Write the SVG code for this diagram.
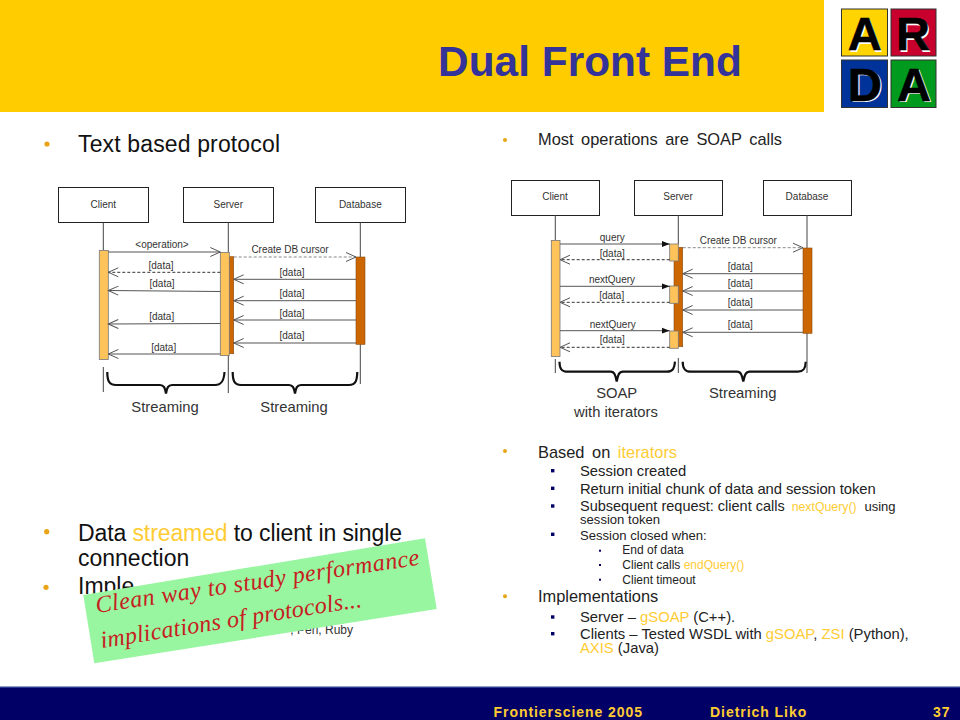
<svg xmlns="http://www.w3.org/2000/svg" width="960" height="720" viewBox="0 0 960 720">
<style>
text{font-family:"Liberation Sans",Arial,sans-serif;fill:#111}
.hl{fill:#FFCC33}
.lb{font-size:10px;fill:#333}
.ct{text-anchor:middle}
.box{fill:#fff;stroke:#222;stroke-width:1}
.lf{stroke:#444;stroke-width:1;fill:none}
.act{fill:#FFC35C;stroke:#777;stroke-width:.8}
.dk{fill:#CC6600;stroke:#8a4a10;stroke-width:.6}
.sol{stroke:#555;stroke-width:1;fill:none;marker-end:url(#o)}
.dsh{stroke:#333;stroke-width:1;fill:none;stroke-dasharray:3 2;marker-end:url(#o)}
.gd{stroke:#888;stroke-width:1;fill:none;stroke-dasharray:3 2;marker-end:url(#o)}
.fil{stroke:#555;stroke-width:1;fill:none;marker-end:url(#f)}
.br{stroke:#111;stroke-width:2.2;fill:none}
.st{font-size:14.8px;fill:#333;text-anchor:middle}
.b1{fill:#E8A317}
.b2{fill:#000066}
.l{font-size:23px}
.m{font-size:16.4px;fill:#222}
.s{font-size:14.8px;fill:#222}
.x{font-size:13.1px;fill:#222}
.y{font-size:12px;fill:#222}
.lg{font-size:47px;font-weight:bold;text-anchor:middle}
.lw{fill:#fff}
.lk{fill:#000;stroke:#000;stroke-width:.6px}
.ft{font-size:14px;font-weight:bold;fill:#FFCC33;letter-spacing:.95px}
.nt{font-family:"Liberation Serif",serif;font-style:italic;font-size:24px;fill:#C62020}
</style>
<defs>
<marker id="o" markerUnits="userSpaceOnUse" markerWidth="12" markerHeight="12" refX="10.5" refY="6" orient="auto"><path d="M.5,1.5L10.5,6L.5,10.5" fill="none" stroke="#555" stroke-width="1"/></marker>
<marker id="f" markerUnits="userSpaceOnUse" markerWidth="10" markerHeight="10" refX="8" refY="5" orient="auto"><path d="M0,2L8,5L0,8Z" fill="#111"/></marker>
</defs>
<rect width="960" height="720" fill="#fff"/>

<g id="header">
<rect width="824" height="112" fill="#FFCC00"/>
<text x="590" y="76" font-size="42.4" font-weight="bold" text-anchor="middle" style="fill:#333399">Dual Front End</text>
</g>

<g id="logo">
<rect x="841.5" y="9" width="46" height="47" fill="#FFD400" stroke="#333"/>
<rect x="891" y="9" width="45" height="47" fill="#C8002D" stroke="#333"/>
<rect x="841.5" y="60" width="46" height="47.5" fill="#003399" stroke="#333"/>
<rect x="891" y="60" width="45" height="47.5" fill="#009A1E" stroke="#333"/>
<text class="lg lw" x="866.2" y="51.5">A</text>
<text class="lg lw" x="914.5" y="51.5">R</text>
<text class="lg lw" x="866.5" y="102.2">D</text>
<text class="lg lw" x="915.5" y="102.2">A</text>
<text class="lg lk" x="864.7" y="50">A</text>
<text class="lg lk" x="913" y="50">R</text>
<text class="lg lk" x="865" y="100.7">D</text>
<text class="lg lk" x="914" y="100.7">A</text>
</g>

<g id="left-text">
<circle class="b1" cx="47" cy="144" r="2.6"/>
<text class="l" x="78" y="151.5" textLength="202">Text based protocol</text>
<circle class="b1" cx="46.7" cy="531.7" r="2.6"/>
<text class="l" x="78" y="541" textLength="324">Data <tspan class="hl">streamed</tspan> to client in single</text>
<text class="l" x="78" y="565.5">connection</text>
<circle class="b1" cx="46" cy="587.3" r="2.6"/>
<text class="l" x="78" y="594">Imple</text>
<text x="353" y="634" font-size="12" text-anchor="end" style="fill:#333">, Perl, Ruby</text>
</g>

<g id="left-diagram">
<g id="l-client"><rect class="box" x="58.5" y="187.5" width="90" height="35"/><text class="lb ct" x="103.3" y="207.7">Client</text></g>
<g id="l-server"><rect class="box" x="183.5" y="187.5" width="90" height="35"/><text class="lb ct" x="228.3" y="207.7">Server</text></g>
<g id="l-database"><rect class="box" x="315.5" y="187.5" width="90" height="35"/><text class="lb ct" x="360.3" y="207.7">Database</text></g>
<g id="l-lifelines">
<path class="lf" d="M103.3,222.5V250M103.3,367V392"/>
<path class="lf" d="M228.3,222.5V252M228.3,355V393"/>
<path class="lf" d="M360.3,222.5V257M360.3,344V384"/>
</g>
<g id="l-activations">
<rect class="act" x="99.3" y="250.5" width="9" height="109"/>
<rect class="dk" x="229" y="256.7" width="4.7" height="97"/>
<rect class="act" x="220.3" y="252.5" width="9" height="103"/>
<rect class="dk" x="356" y="257" width="9" height="87.3"/>
</g>
<g id="l-connectors">
<path class="sol" d="M108.3,252H220.3"/>
<path class="dsh" d="M220.3,272.3H108.3"/>
<path class="sol" d="M220.3,291.5L108.3,290.5"/>
<path class="sol" d="M220.3,323.5L108.3,324"/>
<path class="sol" d="M220.3,354H108.3"/>
<path class="gd" d="M233.7,257H356"/>
<path class="sol" d="M356,279.3H233.7"/>
<path class="sol" d="M356,300.7H233.7"/>
<path class="sol" d="M356,320H233.7"/>
<path class="sol" d="M356,343H233.7"/>
<path class="br" d="M107.3,372C107.3,380 108.5,385 116,385H160C164,385 165,388 166,393.5C167,388 168,385 172,385H215C222,385 224,380 224.5,372"/>
<path class="br" d="M232.7,372C232.7,380 234,385 241,385H289C293,385 294,388 295,393.5C296,388 297,385 301,385H349C356,385 357,380 357.3,372"/>
</g>
<g id="l-labels">
<text class="lb ct" x="162" y="248">&lt;operation&gt;</text>
<text class="lb ct" x="161" y="268.7">[data]</text>
<text class="lb ct" x="162" y="286.7">[data]</text>
<text class="lb ct" x="161.7" y="319.7">[data]</text>
<text class="lb ct" x="163.7" y="350.7">[data]</text>
<text class="lb ct" x="290" y="252.7">Create DB cursor</text>
<text class="lb ct" x="292" y="276">[data]</text>
<text class="lb ct" x="292" y="296.7">[data]</text>
<text class="lb ct" x="292" y="316.7">[data]</text>
<text class="lb ct" x="292" y="339.3">[data]</text>
<text class="st" x="165" y="411.7">Streaming</text>
<text class="st" x="294" y="411.7">Streaming</text>
</g>
</g>

<g id="right-diagram">
<g id="r-client"><rect class="box" x="511.5" y="180.5" width="88" height="35"/><text class="lb ct" x="555" y="200.3">Client</text></g>
<g id="r-server"><rect class="box" x="634.5" y="180.5" width="88" height="35"/><text class="lb ct" x="678" y="200.3">Server</text></g>
<g id="r-database"><rect class="box" x="763.5" y="180.5" width="88" height="35"/><text class="lb ct" x="807" y="200.3">Database</text></g>
<g id="r-lifelines">
<path class="lf" d="M555.3,215V240M555.3,359V373"/>
<path class="lf" d="M678.3,215V244M678.3,358V373"/>
<path class="lf" d="M807,215V248M807,333V373"/>
</g>
<g id="r-activations">
<rect class="act" x="551.3" y="240.5" width="8.7" height="116"/>
<rect class="dk" x="674" y="247.3" width="8.7" height="99.4"/>
<rect class="act" x="669.7" y="244" width="8.6" height="17"/>
<rect class="act" x="669.7" y="286" width="8.6" height="17.3"/>
<rect class="act" x="669.7" y="331" width="8.6" height="17.3"/>
<rect class="dk" x="803" y="248" width="9" height="85.3"/>
</g>
<g id="r-connectors">
<path class="fil" d="M560,244H669.7"/>
<path class="dsh" d="M669.7,259.7H560"/>
<path class="fil" d="M560,286.3H669.7"/>
<path class="dsh" d="M669.7,302.3H560"/>
<path class="fil" d="M560,330.7H669.7"/>
<path class="dsh" d="M669.7,347.3H560"/>
<path class="gd" d="M682.7,247.7H803"/>
<path class="sol" d="M803,273.7H682.7"/>
<path class="sol" d="M803,291H682.7"/>
<path class="sol" d="M803,310H682.7"/>
<path class="sol" d="M803,332.3H682.7"/>
<path class="br" d="M559.5,361.7C559.5,368 561,371.7 568,371.7H610.5C614.5,371.7 615.5,375 616.7,381.5C617.9,375 619,371.7 623,371.7H667C673,371.7 674.5,368 675,361.7"/>
<path class="br" d="M682.7,361.7C682.7,368 684.5,371.7 691,371.7H737C741,371.7 742,375 743.3,381.5C744.6,375 745.6,371.7 750,371.7H798C804,371.7 805.5,368 805.7,361.7"/>
</g>
<g id="r-labels">
<text class="lb ct" x="612.3" y="240.7">query</text>
<text class="lb ct" x="612.3" y="257.3">[data]</text>
<text class="lb ct" x="612" y="283.3">nextQuery</text>
<text class="lb ct" x="611.7" y="299.3">[data]</text>
<text class="lb ct" x="612.7" y="327.7">nextQuery</text>
<text class="lb ct" x="612.3" y="343.3">[data]</text>
<text class="lb ct" x="738.3" y="243.7">Create DB cursor</text>
<text class="lb ct" x="740.3" y="270">[data]</text>
<text class="lb ct" x="740.3" y="287.3">[data]</text>
<text class="lb ct" x="740.3" y="306.3">[data]</text>
<text class="lb ct" x="740.3" y="328.3">[data]</text>
<text class="st" x="616.7" y="398.3">SOAP</text>
<text class="st" x="616" y="416.7">with iterators</text>
<text class="st" x="742.7" y="398.3">Streaming</text>
</g>
</g>

<g id="right-text">
<circle class="b1" cx="505" cy="140" r="2"/>
<text class="m" x="538" y="145" word-spacing="3">Most operations are SOAP calls</text>
<circle class="b1" cx="505" cy="451" r="2"/>
<text class="m" x="538" y="457.7" word-spacing="3">Based on <tspan class="hl">iterators</tspan></text>
<rect class="b2" x="551" y="469" width="3.4" height="3.4"/>
<text class="s" x="580" y="475.7">Session created</text>
<rect class="b2" x="551" y="486.6" width="3.4" height="3.4"/>
<text class="s" x="580" y="493.7" textLength="295.7">Return initial chunk of data and session token</text>
<rect class="b2" x="551" y="504.3" width="3.4" height="3.4"/>
<text x="580" y="511" font-size="14.5" style="fill:#222">Subsequent request: client calls <tspan class="hl" x="791.7" font-size="12.3">nextQuery()</tspan><tspan x="864.5" font-size="13">using</tspan></text>
<text class="x" x="580" y="523.7">session token</text>
<rect class="b2" x="551" y="532.6" width="3.4" height="3.4"/>
<text class="x" x="580" y="539.7">Session closed when:</text>
<rect class="b2" x="599" y="549.7" width="2" height="2"/>
<text class="y" x="622.3" y="554.3">End of data</text>
<rect class="b2" x="599" y="564" width="2" height="2"/>
<text class="y" x="622.3" y="569">Client calls <tspan class="hl">endQuery()</tspan></text>
<rect class="b2" x="599" y="578.7" width="2" height="2"/>
<text class="y" x="622.3" y="583.7">Client timeout</text>
<circle class="b1" cx="505" cy="596.3" r="2"/>
<text class="m" x="538" y="602.3">Implementations</text>
<rect class="b2" x="551" y="615.3" width="3.4" height="3.4"/>
<text class="s" x="580" y="621.7">Server – <tspan class="hl">gSOAP</tspan> (C++).</text>
<rect class="b2" x="551" y="632" width="3.4" height="3.4"/>
<text class="s" x="580" y="639">Clients – Tested WSDL with <tspan class="hl">gSOAP</tspan>, <tspan class="hl">ZSI</tspan> (Python),</text>
<text class="s" x="580" y="653"><tspan class="hl">AXIS</tspan> (Java)</text>
</g>

<g id="note">
<polygon points="83.3,595 425,538.3 436.7,609 94.3,663.3" fill="#98F5A0"/>
<text class="nt" transform="translate(96.7,613) rotate(-8.5)" textLength="327">Clean way to study performance</text>
<text class="nt" transform="translate(101.7,648) rotate(-9)" textLength="264">implications of protocols...</text>
</g>

<g id="footer">
<rect y="687" width="960" height="33" fill="#000066"/>
<rect y="686.5" width="960" height="1.5" fill="#2B3A8F"/>
<text class="ft" x="493.5" y="716.5">Frontiersciene 2005</text>
<text class="ft" x="710" y="716.5">Dietrich Liko</text>
<text class="ft" x="933" y="716.5">37</text>
</g>
</svg>
